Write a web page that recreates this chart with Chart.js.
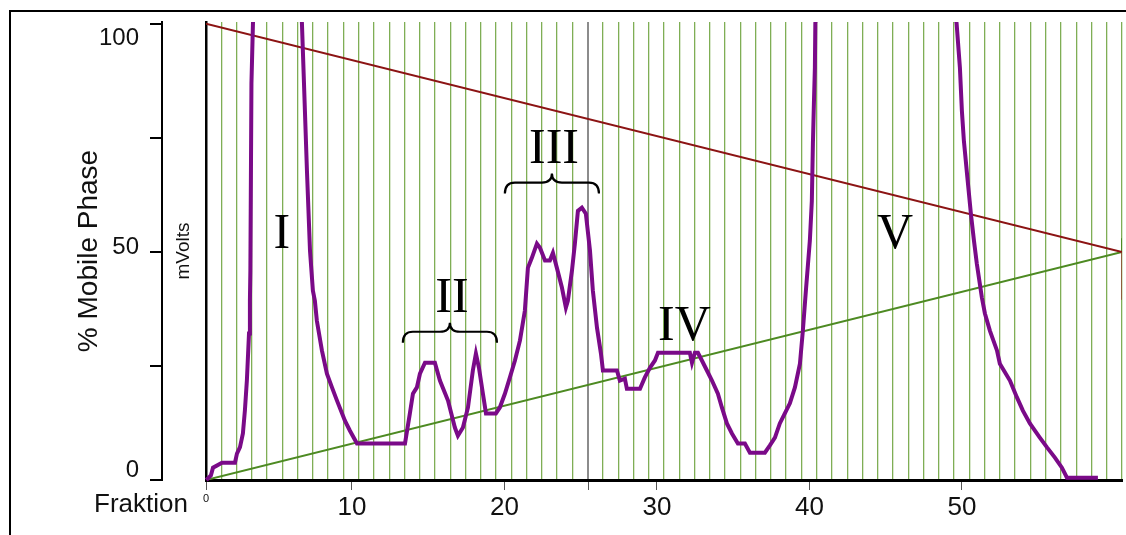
<!DOCTYPE html>
<html>
<head>
<meta charset="utf-8">
<script src="https://cdn.jsdelivr.net/npm/chart.js@4.4.0/dist/chart.umd.min.js"></script>
<style>
  html, body { margin: 0; padding: 0; background: #fff; }
  canvas { display: block; }
</style>
</head>
<body>
<canvas id="chromChart" width="1126" height="535"></canvas>
<script>
// Detector trace (mVolts, drawn on the same 0-100 scale), x = Fraktion
var signalX = [0.45, 0.75, 0.89, 1.48, 2.33, 2.46, 2.66, 2.85, 2.98, 3.11,
  3.25, 3.31, 3.34, 3.41, 3.51, 5.1, 6.72, 6.85, 7.05, 7.25,
  7.44, 7.57, 7.70, 8.03, 8.36, 8.69, 9.02, 9.54, 9.87, 10.33,
  13.48, 13.80, 14.0, 14.26, 14.46, 14.79, 15.44, 15.77, 16.30, 16.75,
  16.95, 17.28, 17.61, 17.93, 18.13, 18.33, 18.59, 18.79, 19.44, 19.70,
  20.03, 20.36, 20.69, 21.02, 21.34, 21.54, 21.80, 22.13, 22.33, 22.66,
  22.98, 23.18, 23.44, 23.77, 24.03, 24.16, 24.43, 24.62, 24.82, 25.08,
  25.34, 25.61, 25.80, 26.07, 26.33, 26.46, 27.38, 27.57, 27.90, 28.03,
  28.89, 29.21, 29.54, 29.87, 30.07, 32.16, 32.30, 32.49, 32.69, 32.95,
  33.28, 33.61, 34.0, 34.26, 34.59, 34.92, 35.31, 35.77, 36.10, 37.08,
  37.41, 37.74, 38.06, 38.39, 38.72, 39.05, 39.38, 39.57, 39.77, 39.90,
  40.03, 40.16, 40.23, 40.30, 40.36, 40.39, 45.0, 49.65, 49.87, 50.0,
  50.13, 50.36, 50.59, 50.79, 50.98, 51.31, 51.51, 51.84, 52.30, 52.49,
  53.15, 53.61, 54.0, 54.46, 55.11, 55.57, 56.10, 56.56, 56.89, 58.92];
var signalY = [0, 1.0, 2.7, 3.8, 3.8, 5.8, 7.2, 10.2, 15.2, 21.8,
  32.1, 39.3, 45.9, 86.9, 100.2, 170, 100.2, 87.5, 67.8, 50.3,
  41.5, 39.3, 34.9, 28.4, 23.3, 20.3, 17.4, 13.0, 10.8, 8.0,
  8.0, 14.6, 18.9, 20.3, 23.3, 25.7, 25.7, 21.8, 17.4, 11.5,
  9.7, 11.5, 15.9, 24.0, 27.7, 24.6, 18.9, 14.6, 14.6, 15.9,
  18.9, 22.5, 26.2, 30.6, 37.1, 46.5, 48.7, 51.8, 50.9, 48.1,
  48.1, 49.8, 46.5, 42.2, 37.8, 39.3, 45.9, 51.8, 59.0, 59.7,
  58.4, 50.3, 41.5, 33.4, 27.7, 24.0, 24.0, 21.8, 22.2, 20.0,
  20.0, 22.5, 24.6, 26.2, 27.9, 27.9, 25.7, 27.9, 27.9, 26.2,
  24.0, 21.8, 18.9, 15.9, 12.4, 10.2, 8.0, 8.0, 6.0, 6.0,
  7.6, 9.3, 12.4, 14.6, 16.8, 20.3, 25.5, 32.7, 41.5, 47.0,
  52.5, 61.2, 73.7, 83.1, 90.4, 100.2, 170, 100.2, 90.4, 80.9,
  74.4, 66.3, 58.4, 52.5, 47.4, 40.0, 36.5, 32.7, 28.4, 25.5,
  21.8, 18.1, 15.2, 12.4, 9.3, 7.2, 4.9, 2.7, 0.5, 0.5];

// Gradient programme (% Mobile Phase)
var gradientX = [0.43, 60.5, 60.5];
var phaseA = [100, 50, 39.5];   // red
var phaseB = [0, 50, 53];       // green

// Axis ticks
var xTickValues = [0.43, 10, 20, 30, 40, 50];
var xTickLabels = ['0', '10', '20', '30', '40', '50'];
var markerX = 25.5;            // grey marker on the axis
var yTickValues = [0, 25, 50, 75, 100];
var yTickLabels = ['0', '', '50', '', '100'];
var fractionCount = 60;
var markerFraction = 25;

// Peak groups
var peakNames = ['I', 'II', 'III', 'IV', 'V'];
var peakLabelX = [5.41, 16.56, 23.25, 31.8, 45.61];
var peakLabelY = [50.9, 36.9, 69.6, 30.6, 50.9];
var braceFrom = [13.34, 20.03];
var braceTo = [19.51, 26.2];
var braceY = [32.5, 65.2];

var sans = '"Liberation Sans", Arial, sans-serif';

function toPoints(xs, ys) {
    return xs.map((x, i) => ({ x: x, y: ys[i] }));
}

// Roman numerals, braces, "Fraktion" and the outer frame
var annotationPlugin = {
    id: 'annotations',
    afterDraw(chart) {
        const ctx = chart.ctx;
        const xs = chart.scales.x, ys = chart.scales.y;
        const area = chart.chartArea;
        ctx.save();
        // frame
        ctx.strokeStyle = '#000';
        ctx.lineWidth = 2;
        ctx.beginPath();
        ctx.moveTo(10, chart.height);
        ctx.lineTo(10, 11);
        ctx.lineTo(chart.width, 11);
        ctx.stroke();

        // Fraktion
        ctx.fillStyle = '#111';
        ctx.font = '26px ' + sans;
        ctx.textAlign = 'right';
        ctx.textBaseline = 'alphabetic';
        ctx.fillText('Fraktion', area.left - 18, area.bottom + 32);

        // numerals
        ctx.font = '50px "Liberation Serif", "Times New Roman", serif';
        ctx.textAlign = 'center';
        ctx.fillStyle = '#000';
        peakNames.forEach((name, i) => {
            ctx.fillText(name, xs.getPixelForValue(peakLabelX[i]), ys.getPixelForValue(peakLabelY[i]));
        });

        // braces
        ctx.lineWidth = 2.2;
        braceFrom.forEach((from, i) => {
            const x1 = xs.getPixelForValue(from);
            const x2 = xs.getPixelForValue(braceTo[i]);
            const y = ys.getPixelForValue(braceY[i]);
            const xm = (x1 + x2) / 2;
            ctx.beginPath();
            ctx.moveTo(x1, y + 11);
            ctx.quadraticCurveTo(x1, y, x1 + 10, y);
            ctx.lineTo(xm - 10, y);
            ctx.quadraticCurveTo(xm, y, xm, y - 9);
            ctx.quadraticCurveTo(xm, y, xm + 10, y);
            ctx.lineTo(x2 - 10, y);
            ctx.quadraticCurveTo(x2, y, x2, y + 11);
            ctx.stroke();
        });
        ctx.restore();
    }
};

var ctx = document.getElementById('chromChart').getContext('2d');
var chromChart = new Chart(ctx, {
    type: 'line',
    data: {
        datasets: [
            {
                label: 'mVolts',
                data: toPoints(signalX, signalY),
                borderColor: '#7a0a88',
                borderWidth: 4,
                pointRadius: 0,
                tension: 0,
                xAxisID: 'x',
                yAxisID: 'yMv',
                clip: { left: 5, right: 5, top: 0, bottom: 5 },
                order: 0
            },
            {
                label: 'A',
                data: toPoints(gradientX, phaseA),
                borderColor: '#8c1414',
                borderWidth: 2,
                pointRadius: 0,
                xAxisID: 'x',
                yAxisID: 'y',
                segment: {
                    borderColor: c => c.p0.parsed.x === c.p1.parsed.x ? 'rgba(150,40,40,0.6)' : '#8c1414'
                },
                order: 1
            },
            {
                label: 'B',
                data: toPoints(gradientX, phaseB),
                borderColor: '#4d8a22',
                borderWidth: 2,
                pointRadius: 0,
                xAxisID: 'x',
                yAxisID: 'y',
                order: 1
            }
        ]
    },
    options: {
        responsive: false,
        animation: false,
        layout: { padding: { left: 0, right: 4, top: 22, bottom: 0 } },
        plugins: {
            legend: { display: false },
            tooltip: { enabled: false }
        },
        scales: {
            x: {
                type: 'linear',
                position: 'bottom',
                min: 0.43,
                max: 60.5,
                afterBuildTicks: s => {
                    s.ticks = xTickValues.concat([markerX]).map(v => ({ value: v }));
                },
                afterFit: s => { s.height = 55; s.paddingLeft = 0; s.paddingRight = 0; },
                ticks: {
                    autoSkip: false,
                    maxRotation: 0,
                    padding: 2,
                    color: '#111',
                    font: c => ({ family: sans, size: c.index === 0 ? 11 : 26 }),
                    callback: (value, index) => xTickLabels[index] || ''
                },
                grid: {
                    drawOnChartArea: false,
                    drawTicks: true,
                    tickLength: 10,
                    tickColor: '#555',
                    tickWidth: 1
                },
                border: { display: true, color: '#000', width: 3 }
            },
            frac: {
                type: 'linear',
                position: 'top',
                min: 0,
                max: fractionCount,
                afterFit: s => { s.height = 0; s.paddingLeft = 0; s.paddingRight = 0; },
                ticks: { display: false, stepSize: 1, autoSkip: false },
                grid: {
                    drawTicks: false,
                    color: c => c.tick && c.tick.value === markerFraction ? '#8c8c8c' : '#7fae55',
                    lineWidth: c => c.tick && c.tick.value === markerFraction ? 2 : 1.3
                },
                border: { display: false }
            },
            y: {
                type: 'linear',
                position: 'left',
                weight: 2,
                min: 0,
                max: 100.4,
                afterBuildTicks: s => {
                    s.ticks = yTickValues.map(v => ({ value: v }));
                },
                afterFit: s => { s.width = 162; s.paddingTop = 0; s.paddingBottom = 0; },
                ticks: {
                    padding: 11,
                    color: '#111',
                    font: c => ({
                        family: sans,
                        size: 24,
                        lineHeight: c.tick && c.tick.value === 100 ? 1.2 : (c.tick && c.tick.value === 0 ? 0.8 : 0.35)
                    }),
                    callback: (value, index) => {
                        const label = yTickLabels[index];
                        if (!label) return '';
                        return value === 100 ? ['', label] : [label, ''];
                    }
                },
                grid: {
                    drawOnChartArea: false,
                    drawTicks: true,
                    tickLength: 12,
                    color: '#000',
                    lineWidth: 2
                },
                border: { display: true, color: '#000', width: 2 },
                title: {
                    display: true,
                    text: '% Mobile Phase',
                    color: '#111',
                    font: { family: sans, size: 28 },
                    padding: { top: 72, bottom: 0 }
                }
            },
            yMv: {
                type: 'linear',
                position: 'left',
                weight: 1,
                min: 0,
                max: 100.4,
                afterFit: s => { s.width = 44; s.paddingTop = 0; s.paddingBottom = 0; },
                ticks: { display: false },
                grid: { display: false },
                border: { display: true, color: '#000', width: 2.5 },
                title: {
                    display: true,
                    text: 'mVolts',
                    color: '#111',
                    font: { family: sans, size: 19 },
                    padding: { top: 10, bottom: 0 }
                }
            }
        }
    },
    plugins: [annotationPlugin]
});
</script>
</body>
</html>
